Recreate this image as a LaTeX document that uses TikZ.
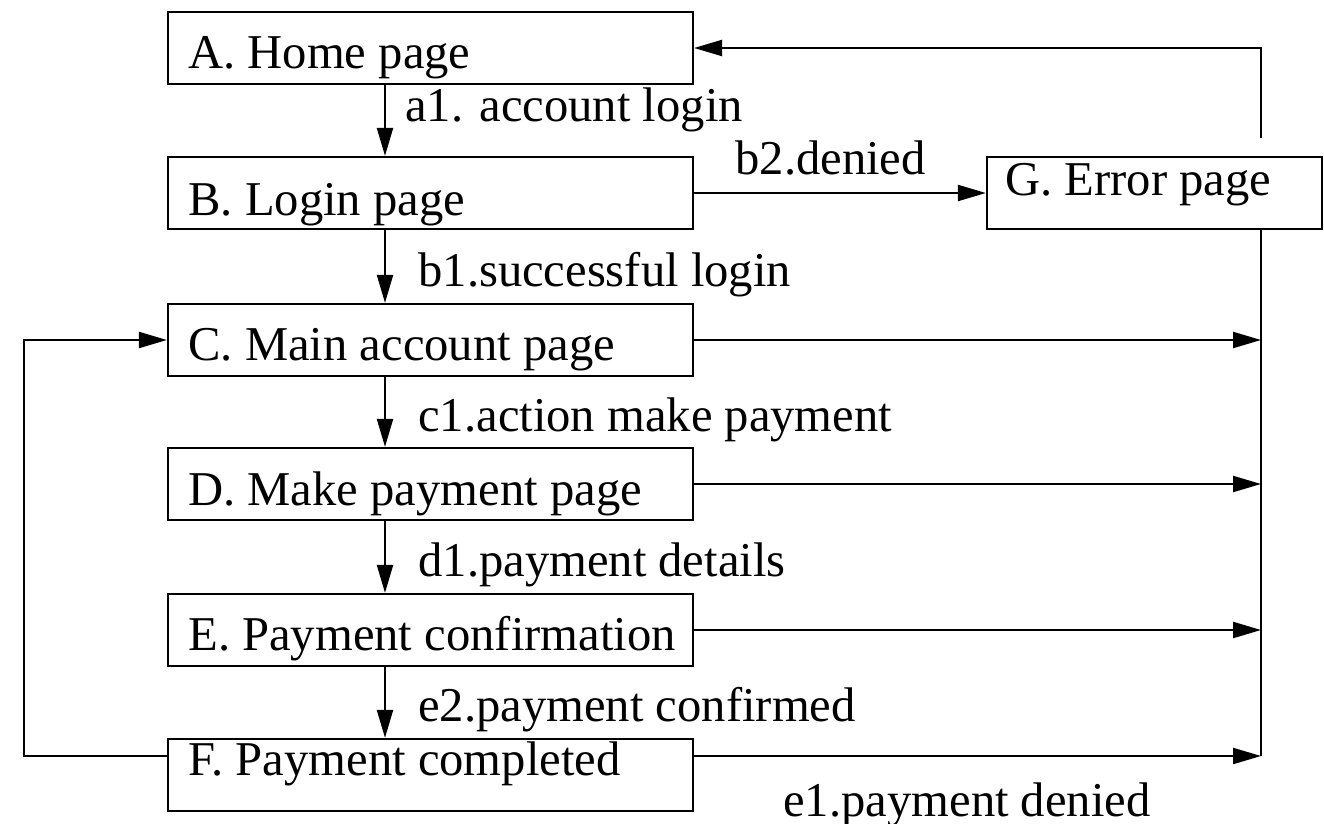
\documentclass[tikz,border=0pt]{standalone}
\usepackage{fontspec}
\setmainfont{Liberation Serif}
\usetikzlibrary{arrows.meta}
\begin{document}
\begin{tikzpicture}[x=0.5pt,y=-0.5pt,
  box/.style={draw, line width=1.1pt, rectangle, inner sep=0pt, minimum width=262.5pt, minimum height=36pt},
  txt/.style={anchor=base west, inner sep=0pt, font=\fontsize{24.3}{28}\selectfont},
  arr/.style={line width=1.1pt, -{Triangle[length=14pt,width=8pt]}},
  ln/.style={line width=1.1pt}]
\useasboundingbox (0,0) rectangle (1324,824);
% boxes
\node[box] (A) at (430.5,48) {};
\node[box] (B) at (430.5,193) {};
\node[box] (C) at (430.5,340) {};
\node[box] (D) at (430.5,484) {};
\node[box] (E) at (430.5,630) {};
\node[box] (F) at (430.5,775) {};
\node[box, minimum width=167.5pt] (G) at (1154.5,193) {};
% box texts
\node[txt] (At) at (188,69) {A. Home page};
\node[txt] (Bt) at (188,215) {B. Login page};
\node[txt] (Ct) at (188,360) {C. Main account page};
\node[txt] (Dt) at (188,505) {D. Make payment page};
\node[txt] (Et) at (188,650) {E. Payment confirmation};
\node[txt] (Ft) at (188,775) {F. Payment completed};
\node[txt] (Gt) at (1005,196) {G. Error page};
% helper coordinates
\coordinate (vx) at (385,0);
\coordinate (rx) at (1261,0);
\coordinate (lx) at (24,0);
\coordinate (fy) at (0,756);
\coordinate (gtop) at (1261,138);
% vertical flow
\draw[arr] (A.south -| vx) -- (B.north -| vx);
\draw[arr] (B.south -| vx) -- (C.north -| vx);
\draw[arr] (C.south -| vx) -- (D.north -| vx);
\draw[arr] (D.south -| vx) -- (E.north -| vx);
\draw[arr] (E.south -| vx) -- (F.north -| vx);
% to error page
\draw[arr] (B.east) -- (G.west);
\draw[arr] (gtop) |- (A.east);
\draw[ln] (G.south -| rx) -- (rx |- fy);
\draw[arr] (C.east) -- (C.east -| rx);
\draw[arr] (D.east) -- (D.east -| rx);
\draw[arr] (E.east) -- (E.east -| rx);
\draw[arr] (F.east |- fy) -- (rx |- fy);
% loop back
\draw[arr] (F.west |- fy) -| (lx |- C.west) -- (C.west);
% labels
\node[txt] (a1) at (405,122) {a1. account login};
\node[txt] (b2) at (735,175) {b2.denied};
\node[txt] (b1) at (418,286) {b1.successful login};
\node[txt] (c1) at (418,431) {c1.action make payment};
\node[txt] (d1) at (418,576) {d1.payment details};
\node[txt] (e2) at (418,721) {e2.payment confirmed};
\node[txt] (e1) at (783,816) {e1.payment denied};
\end{tikzpicture}
\end{document}
